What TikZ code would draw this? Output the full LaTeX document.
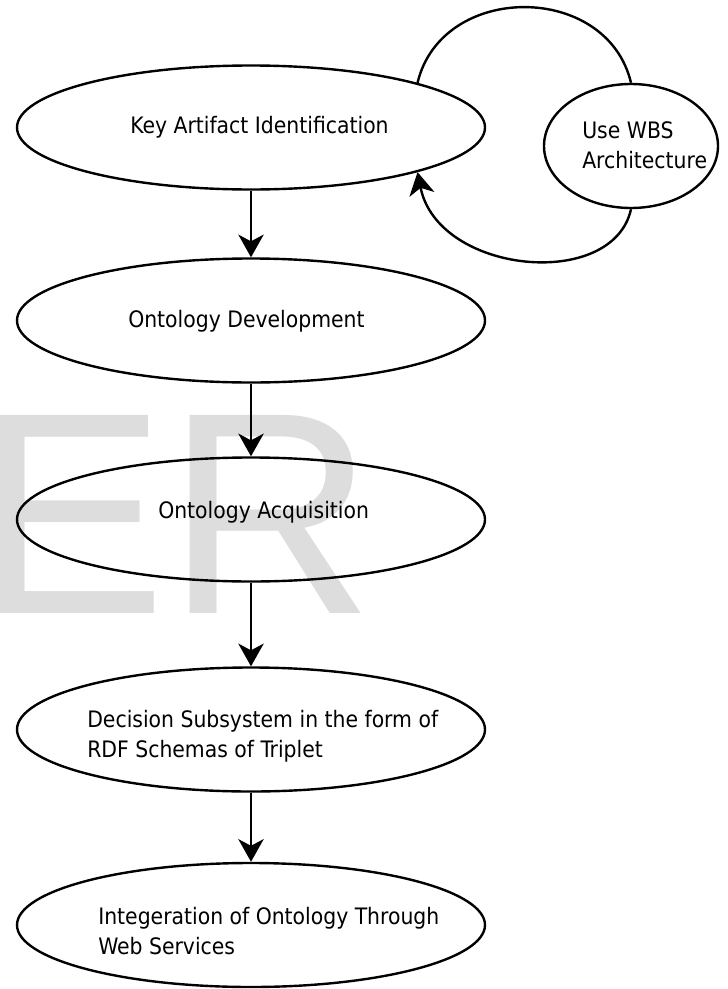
\documentclass[tikz,border=0pt]{standalone}
\usepackage{fontspec}
\setmainfont{DejaVu Sans Condensed}
\newfontfamily\markfont{Liberation Sans}
\usetikzlibrary{shapes.geometric,arrows.meta}

\definecolor{markgray}{HTML}{DDDDDD}

\tikzset{
  stage/.style={ellipse, draw=black, line width=1.8pt, fill=none,
    minimum width=351pt, minimum height=93pt, inner sep=0pt},
  sidestage/.style={ellipse, draw=black, line width=1.8pt, fill=none,
    minimum width=130.5pt, minimum height=93pt, inner sep=0pt},
  label/.style={anchor=base west, inner sep=0pt, align=left,
    font=\fontsize{17}{22.5}\selectfont},
  flow/.style={line width=1.8pt, -{Stealth[length=17pt, width=19pt, inset=5pt]}},
  loop/.style={line width=1.8pt},
}

\begin{document}
\begin{tikzpicture}[x=0.75pt, y=-0.75pt]
  \useasboundingbox (0,0) rectangle (728,989);

  % faint background lettering
  \begin{scope}
    \clip (0,0) rectangle (728,989);
    \node[anchor=base west, inner sep=0pt, text=markgray,
          font=\markfont\fontsize{216}{216}\selectfont] (mark) at (-26,613) {ER};
  \end{scope}

  % process stages
  \node[stage] (n1) at (251,127.5) {};
  \node[stage] (n2) at (251,320.5) {};
  \node[stage] (n3) at (251,519.5) {};
  \node[stage] (n4) at (251,729.5) {};
  \node[stage] (n5) at (251,925) {};
  \node[sidestage] (wbs) at (631,146) {};

  % stage captions (base = baseline of the last line)
  \node[label] (t1) at (130,133) {Key Artifact Identification};
  \node[label] (t2) at (128,327) {Ontology Development};
  \node[label] (t3) at (158,518) {Ontology Acquisition};
  \node[label] (t4) at (87,757) {Decision Subsystem in the form of\\RDF Schemas of Triplet};
  \node[label] (t5) at (98,954) {Integeration of Ontology Through\\Web Services};
  \node[label] (t6) at (582,168) {Use WBS\\Architecture};

  % main flow
  \draw[flow] (n1.south) -- (n2.north);
  \draw[flow] (n2.south) -- (n3.north);
  \draw[flow] (n3.south) -- (n4.north);
  \draw[flow] (n4.south) -- (n5.north);

  % feedback loop through the WBS architecture
  \draw[loop] (n1.15) .. controls +(24,-101) and +(-24,-101) .. (wbs.north);
  \draw[flow] (wbs.south) .. controls +(-18,82) and +(20,102) .. (n1.345);
\end{tikzpicture}
\end{document}
